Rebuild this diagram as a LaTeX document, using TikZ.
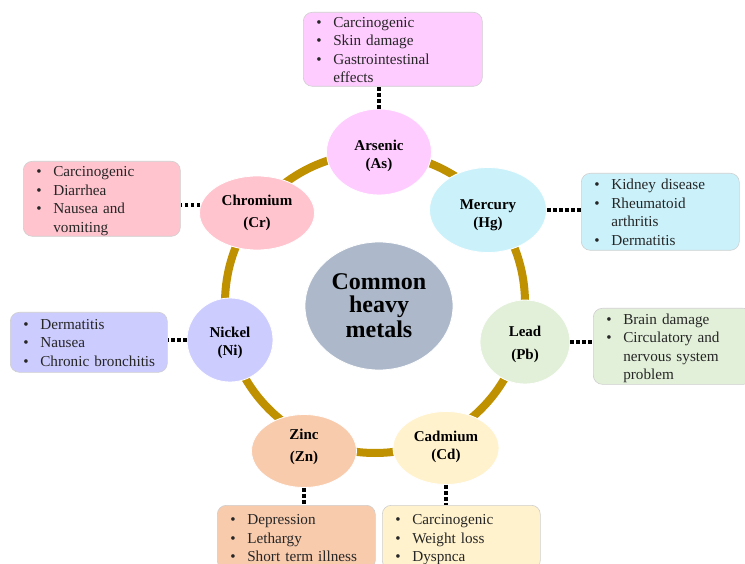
\documentclass[tikz,border=0pt]{standalone}
\usepackage{fontspec}
\setmainfont{Liberation Serif}
\usetikzlibrary{shapes.geometric}
\definecolor{ring}{HTML}{BF9000}
\definecolor{hubfill}{HTML}{ADB9CA}
\definecolor{asfill}{HTML}{FFCCFF}
\definecolor{crfill}{HTML}{FFC4CE}
\definecolor{hgfill}{HTML}{CBF2FB}
\definecolor{pbfill}{HTML}{E2F0D9}
\definecolor{nifill}{HTML}{CCCCFF}
\definecolor{znfill}{HTML}{F8CBAD}
\definecolor{cdfill}{HTML}{FFF2CC}
\definecolor{edge}{HTML}{CFCFCF}
\newcommand{\bul}{\makebox[17pt][l]{\textbullet}}
\newcommand{\cont}{\hspace*{17pt}}
\newcommand{\fxlist}[1]{\raisebox{-2pt}[\height][\depth]{\begin{tabular}{@{}l@{}}#1\end{tabular}}}
\newcommand{\mname}[2]{\raisebox{#1}[\height][\depth]{\begin{tabular}{@{}c@{}}#2\end{tabular}}}
\tikzset{
  every picture/.style={line cap=butt, line join=round},
  metal/.style={ellipse, draw=white, line width=0.8pt, inner sep=0pt, align=center,
    font=\fontsize{15}{18}\selectfont\bfseries, text=black},
  fxbox/.style={draw=edge, rounded corners=9pt, line width=0.6pt, inner xsep=13pt,
    inner ysep=0pt, anchor=north west, align=left, text=black!85,
    font=\fontsize{15.2}{18.5}\selectfont},
  dotlink/.style={draw=black, line width=3.6pt, dash pattern=on 3.6pt off 2.4pt},
  hoop/.style={draw=ring, line width=8pt},
}

\begin{document}
\begin{tikzpicture}[x=1pt, y=-1pt]
  \path[use as bounding box, fill=white] (0,0) rectangle (745,564);
  % ---------------- ring and hub ----------------
  \draw[hoop] (375,303) circle [radius=150pt];
  \node[metal, fill=hubfill, minimum width=148pt, minimum height=128pt,
    font=\fontsize{24}{22}\selectfont\bfseries] (hub) at (379,306) {\mname{-3pt}{Common\\heavy\\[2pt]metals}};

  % ---------------- metals on the ring ----------------
  \node[metal, fill=asfill, minimum width=105pt, minimum height=86pt] (as) at (379,152) {\mname{-3.5pt}{Arsenic\\(As)}};
  \node[metal, fill=hgfill, minimum width=117pt, minimum height=85pt] (hg) at (488,210) {\mname{-4.5pt}{Mercury\\(Hg)}};
  \node[metal, fill=crfill, minimum width=115pt, minimum height=74pt] (cr) at (257,213) {\mname{0pt}{Chromium\\[4pt](Cr)}};
  \node[metal, fill=pbfill, minimum width=90pt, minimum height=84pt] (pb) at (525,342) {\mname{-2pt}{Lead\\[5pt](Pb)}};
  \node[metal, fill=nifill, minimum width=86pt, minimum height=84pt] (ni) at (230,340) {\mname{-3pt}{Nickel\\(Ni)}};
  \node[metal, fill=znfill, minimum width=105pt, minimum height=73pt] (zn) at (304,451) {\mname{4pt}{Zinc\\[4pt](Zn)}};
  \node[metal, fill=cdfill, minimum width=106pt, minimum height=73pt] (cd) at (446,448) {\mname{1.5pt}{Cadmium\\(Cd)}};

  % ---------------- health effects ----------------
  \node[fxbox, fill=asfill, minimum width=179pt, minimum height=74pt, text width=153pt] (asfx) at (303,12)
    {\fxlist{\bul Carcinogenic\\ \bul Skin damage\\ \bul Gastrointestinal\\ \cont effects}};
  \node[fxbox, fill=crfill, minimum width=157pt, minimum height=75pt, text width=131pt] (crfx) at (23,161)
    {\fxlist{\bul Carcinogenic\\ \bul Diarrhea\\ \bul Nausea and\\ \cont vomiting}};
  \node[fxbox, fill=hgfill, minimum width=158pt, minimum height=77pt, text width=132pt] (hgfx) at (581,173)
    {\fxlist{\bul Kidney disease\\ \bul Rheumatoid\\ \cont arthritis\\ \bul Dermatitis}};
  \node[fxbox, fill=nifill, minimum width=157pt, minimum height=60pt, text width=131pt] (nifx) at (10,312)
    {\fxlist{\bul Dermatitis\\ \bul Nausea\\ \bul Chronic bronchitis}};
  \node[fxbox, fill=pbfill, minimum width=159pt, minimum height=76pt, text width=133pt] (pbfx) at (593,308)
    {\fxlist{\bul Brain damage\\ \bul Circulatory and\\ \cont nervous system\\ \cont problem}};
  \node[fxbox, fill=znfill, minimum width=158pt, minimum height=64pt, text width=132pt] (znfx) at (217,505)
    {\fxlist{\bul Depression\\ \bul Lethargy\\ \bul Short term illness}};
  \node[fxbox, fill=cdfill, minimum width=158pt, minimum height=64pt, text width=132pt] (cdfx) at (382,505)
    {\fxlist{\bul Carcinogenic\\ \bul Weight loss\\ \bul Dyspnca}};

  % dotted links, metal to its box
  \draw[dotlink] (as.north) -- (as.north |- asfx.south);
  \draw[dotlink] (hg.east) -- (hg.east -| hgfx.west);
  \draw[dotlink] (cr.172) -- (cr.172 -| crfx.east);
  \draw[dotlink] (pb.east) -- (pb.east -| pbfx.west);
  \draw[dotlink] (ni.west) -- (ni.west -| nifx.east);
  \draw[dotlink] (zn.south) -- (zn.south |- znfx.north);
  \draw[dotlink] (cd.south) -- (cd.south |- cdfx.north);
\end{tikzpicture}
\end{document}
